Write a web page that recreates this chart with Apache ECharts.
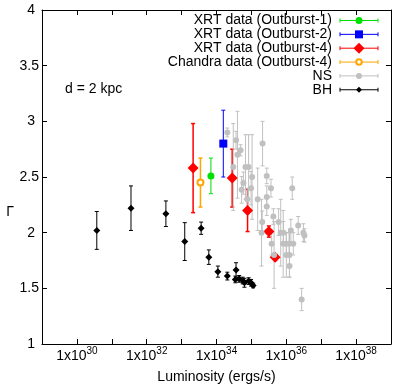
<!DOCTYPE html>
<html>
<head>
<meta charset="utf-8">
<script src="https://cdn.jsdelivr.net/npm/echarts@6/dist/echarts.min.js"></script>
<style>
html,body{margin:0;padding:0;background:#fff;}
#chart{width:407px;height:388px;}
</style>
</head>
<body>
<div id="chart"></div>
<script>
// log10(Luminosity [erg/s]), photon index Gamma, error on Gamma
const xrt1LogL = [33.84];
const xrt1Gamma = [2.51];
const xrt1Err = [0.16];

const xrt2LogL = [34.195];
const xrt2Gamma = [2.80];
const xrt2Err = [0.30];

const xrt4LogL = [33.33, 34.45, 34.89, 35.50, 35.68];
const xrt4Gamma = [2.58, 2.49, 2.20, 2.01, 1.78];
const xrt4Err = [0.40, 0.26, 0.19, 0.05, 0.03];

const chandraLogL = [33.54];
const chandraGamma = [2.45];
const chandraErr = [0.22];

const nsLogL = [34.31, 34.56, 34.60, 34.69, 34.48, 34.83, 34.92, 35.02, 35.32, 35.44,
                34.77, 34.72, 34.99, 35.56, 36.17, 35.18, 35.44, 34.88, 35.44, 35.63,
                35.78, 35.31, 36.34, 36.49, 36.52, 35.84, 35.92, 36.13, 35.29, 35.58,
                35.91, 36.00, 36.08, 36.20, 35.65, 36.00, 36.09, 36.09, 36.44];
const nsGamma = [2.90, 2.83, 2.70, 2.74, 2.59, 2.59, 2.59, 2.50, 2.80, 2.51,
                 2.445, 2.385, 2.40, 2.40, 2.40, 2.30, 2.32, 2.30, 2.235, 2.145,
                 2.095, 2.095, 2.065, 2.00, 1.975, 2.00, 2.00, 2.02, 2.00, 1.90,
                 1.90, 1.90, 1.90, 1.90, 1.80, 1.80, 1.80, 1.70, 1.40];
const nsErr = [0.04, 0.08, 0.39, 0.05, 0.39, 0.29, 0.29, 0.38, 0.20, 0.07,
               0.10, 0.12, 0.15, 0.08, 0.10, 0.28, 0.10, 0.10, 0.08, 0.07,
               0.12, 0.10, 0.08, 0.08, 0.06, 0.30, 0.10, 0.10, 0.30, 0.10,
               0.30, 0.10, 0.10, 0.10, 0.30, 0.20, 0.20, 0.10, 0.10];

const bhLogL = [30.57, 31.55, 32.55, 33.09, 33.56, 33.78, 34.04, 34.31, 34.56, 34.54,
                34.65, 34.75, 34.80, 34.92, 34.99, 35.05];
const bhGamma = [2.02, 2.22, 2.17, 1.92, 2.04, 1.78, 1.65, 1.61, 1.665, 1.58,
                 1.585, 1.57, 1.55, 1.565, 1.55, 1.525];
const bhErr = [0.17, 0.20, 0.115, 0.17, 0.055, 0.065, 0.05, 0.035, 0.065, 0.03,
               0.03, 0.03, 0.04, 0.03, 0.03, 0.02];

const xTickExponents = [30, 32, 34, 36, 38];
const yTickLabels = [1, 1.5, 2, 2.5, 3, 3.5, 4];

const legendNames = ['XRT data (Outburst-1)', 'XRT data (Outburst-2)', 'XRT data (Outburst-4)',
                     'Chandra data (Outburst-4)', 'NS', 'BH'];

const FONT = "'Liberation Sans', Arial, sans-serif";

function rows(xs, ys, es) { return xs.map((x, i) => [x, ys[i], es[i]]); }

function errSeries(data, color, lw) {
  return {
    type: 'custom', coordinateSystem: 'cartesian2d', silent: true, animation: false,
    encode: { x: 0, y: 1 }, data: data, clip: false,
    renderItem: function (params, api) {
      const x = api.value(0), y = api.value(1), e = api.value(2);
      const t = api.coord([x, y + e]), b = api.coord([x, y - e]);
      const c = 2;
      const st = { stroke: color, lineWidth: lw };
      return { type: 'group', children: [
        { type: 'line', shape: { x1: t[0], y1: t[1], x2: b[0], y2: b[1] }, style: st },
        { type: 'line', shape: { x1: t[0] - c, y1: t[1], x2: t[0] + c, y2: t[1] }, style: st },
        { type: 'line', shape: { x1: b[0] - c, y1: b[1], x2: b[0] + c, y2: b[1] }, style: st }
      ]};
    }
  };
}
function markSeries(data, symbol, size, color, border) {
  return {
    type: 'scatter', silent: true, animation: false, data: data.map(r => [r[0], r[1]]),
    symbol: symbol, symbolSize: size,
    itemStyle: border ? { color: '#fff', borderColor: color, borderWidth: border, opacity: 1 }
                      : { color: color, opacity: 1 }
  };
}

const d1 = rows(xrt1LogL, xrt1Gamma, xrt1Err);
const d2 = rows(xrt2LogL, xrt2Gamma, xrt2Err);
const d4 = rows(xrt4LogL, xrt4Gamma, xrt4Err);
const dc = rows(chandraLogL, chandraGamma, chandraErr);
const dn = rows(nsLogL, nsGamma, nsErr);
const db = rows(bhLogL, bhGamma, bhErr);

const GREEN = '#00e000', BLUE = '#0000ff', RED = '#ff0000', ORANGE = '#ffa500', GREY = '#c0c0c0', BLACK = '#000';

// legend graphics
const legendStyle = [
  { color: GREEN, symbol: 'circle', size: 7 },
  { color: BLUE, symbol: 'rect', size: 8 },
  { color: RED, symbol: 'diamond', size: 11 },
  { color: ORANGE, symbol: 'ring', size: 7 },
  { color: GREY, symbol: 'circle', size: 6 },
  { color: BLACK, symbol: 'diamond', size: 6 }
];
const graphics = [];
legendNames.forEach((name, i) => {
  const y = 20.5 + 13.85 * i;
  const s = legendStyle[i];
  graphics.push({ type: 'text', left: null, x: 332, y: y, style: { text: name, fill: '#000', font: '14px ' + FONT, textAlign: 'right', textVerticalAlign: 'middle' } });
  graphics.push({ type: 'line', shape: { x1: 340, y1: y, x2: 378, y2: y }, style: { stroke: s.color, lineWidth: 1 } });
  graphics.push({ type: 'line', shape: { x1: 340, y1: y - 2, x2: 340, y2: y + 2 }, style: { stroke: s.color, lineWidth: 1 } });
  graphics.push({ type: 'line', shape: { x1: 378, y1: y - 2, x2: 378, y2: y + 2 }, style: { stroke: s.color, lineWidth: 1 } });
  const cx = 359, h = s.size / 2;
  if (s.symbol === 'circle') {
    graphics.push({ type: 'circle', shape: { cx: cx, cy: y, r: h }, style: { fill: s.color } });
  } else if (s.symbol === 'rect') {
    graphics.push({ type: 'rect', shape: { x: cx - h, y: y - h, width: s.size, height: s.size }, style: { fill: s.color } });
  } else if (s.symbol === 'diamond') {
    graphics.push({ type: 'polygon', shape: { points: [[cx, y - h], [cx + h, y], [cx, y + h], [cx - h, y]] }, style: { fill: s.color } });
  } else if (s.symbol === 'ring') {
    graphics.push({ type: 'circle', shape: { cx: cx, cy: y, r: 2.8 }, style: { fill: '#fff', stroke: s.color, lineWidth: 2 } });
  }
});
graphics.push({ type: 'text', x: 65, y: 89.5, style: { text: 'd = 2 kpc', fill: '#000', font: '14px ' + FONT, textAlign: 'left', textVerticalAlign: 'middle' } });
graphics.push({ type: 'text', x: 10, y: 212, style: { text: 'Γ', fill: '#000', font: '14px ' + FONT, textAlign: 'center', textVerticalAlign: 'middle' } });
graphics.push({ type: 'text', x: 216.5, y: 377, style: { text: 'Luminosity (ergs/s)', fill: '#000', font: '14px ' + FONT, textAlign: 'center', textVerticalAlign: 'middle' } });

const axisLineStyle = { show: true, lineStyle: { color: '#000', width: 1 } };
const tickStyle = { show: true, inside: true, length: 5, lineStyle: { color: '#000', width: 1 } };

const option = {
  animation: false,
  backgroundColor: '#fff',
  textStyle: { fontFamily: FONT },
  grid: { left: 42, right: 16, top: 10, bottom: 44, containLabel: false },
  xAxis: [
    { type: 'value', min: 29, max: 39, interval: 1, position: 'bottom',
      axisLine: axisLineStyle, axisTick: tickStyle, splitLine: { show: false },
      axisLabel: {
        show: true, margin: 2, color: '#000', fontFamily: FONT,
        formatter: v => xTickExponents.indexOf(Math.round(v)) >= 0 ? '{b|1x10}{s|' + Math.round(v) + '}' : '',
        rich: { b: { fontSize: 14, lineHeight: 20, fontFamily: FONT, color: '#000' },
                s: { fontSize: 10, lineHeight: 10, verticalAlign: 'top', fontFamily: FONT, color: '#000' } }
      } },
    { type: 'value', min: 29, max: 39, interval: 1, position: 'top',
      axisLine: axisLineStyle, axisTick: tickStyle, splitLine: { show: false }, axisLabel: { show: false } }
  ],
  yAxis: [
    { type: 'value', min: 1, max: 4, interval: 0.5, position: 'left',
      axisLine: axisLineStyle, axisTick: tickStyle, splitLine: { show: false },
      axisLabel: { show: true, margin: 3, color: '#000', fontSize: 14, fontFamily: FONT,
        formatter: v => {
          const lab = yTickLabels.find(t => Math.abs(t - v) < 1e-6);
          if (lab === undefined) return '';
          return Number.isInteger(lab) ? '{i|' + lab + '}' : String(lab);
        },
        rich: { i: { fontSize: 14, fontFamily: FONT, color: '#000', padding: [0, 4, 0, 0] } } } },
    { type: 'value', min: 1, max: 4, interval: 0.5, position: 'right',
      axisLine: axisLineStyle, axisTick: tickStyle, splitLine: { show: false }, axisLabel: { show: false } }
  ],
  graphic: graphics,
  series: [
    errSeries(d1, GREEN, 1), markSeries(d1, 'circle', 7, GREEN),
    errSeries(d2, BLUE, 1), markSeries(d2, 'rect', 8, BLUE),
    errSeries(d4, RED, 1.5), markSeries(d4, 'diamond', 11, RED),
    errSeries(dc, ORANGE, 1.5), markSeries(dc, 'circle', 6, ORANGE, 2),
    errSeries(dn, GREY, 1), markSeries(dn, 'circle', 6, GREY),
    errSeries(db, BLACK, 1), markSeries(db, 'diamond', 7, BLACK)
  ]
};

const chart = echarts.init(document.getElementById('chart'), null, { renderer: 'canvas' });
chart.setOption(option);
</script>
</body>
</html>
